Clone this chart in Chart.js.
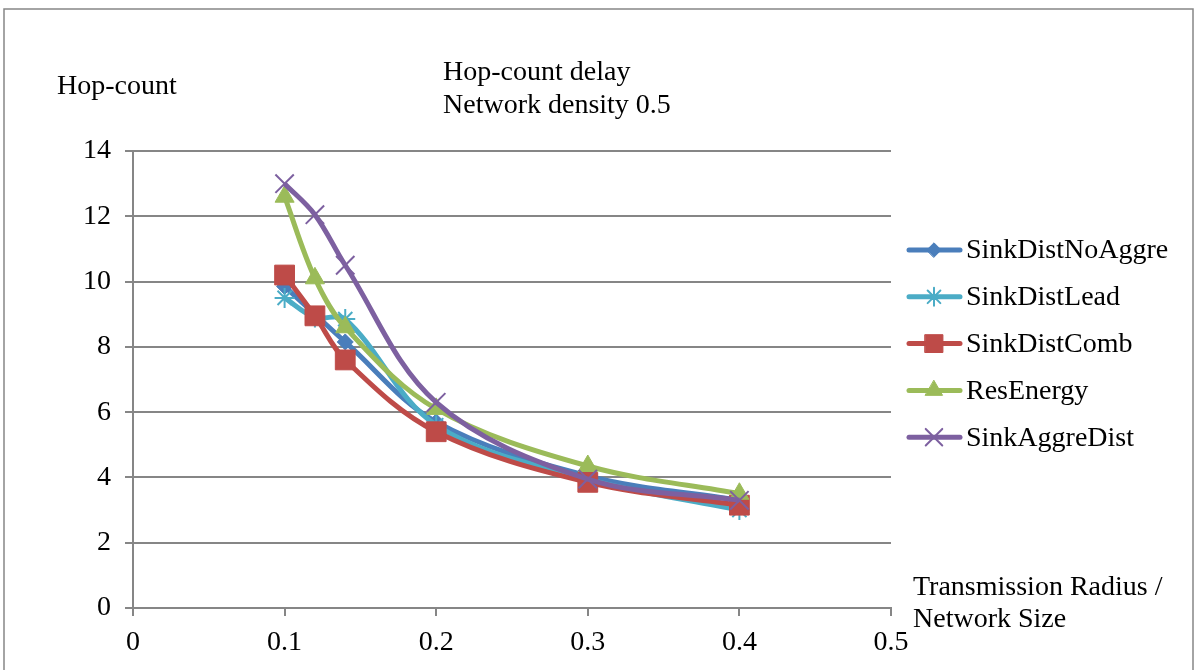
<!DOCTYPE html>
<html>
<head>
<meta charset="utf-8">
<script src="https://cdn.jsdelivr.net/npm/chart.js@4.4.1/dist/chart.umd.min.js"></script>
<style>
  html, body { margin: 0; background: #fff; }
  canvas { display: block; }
</style>
</head>
<body>
<canvas id="hops" width="1199" height="670"></canvas>
<script>
// transmission radius / network size
const radius = [0.1, 0.12, 0.14, 0.2, 0.3, 0.4];

// average hop count per scheme
const sinkDistNoAggre = [9.85, 9.0, 8.15, 5.7, 4.05, 3.3];
const sinkDistLead    = [9.5, 8.9, 8.85, 5.6, 3.95, 3.0];
const sinkDistComb    = [10.2, 8.95, 7.6, 5.4, 3.85, 3.15];
const resEnergy       = [12.6, 10.1, 8.6, 6.1, 4.35, 3.5];
const sinkAggreDist   = [13.0, 12.05, 10.5, 6.3, 3.95, 3.3];

const seriesNames = ["SinkDistNoAggre", "SinkDistLead", "SinkDistComb", "ResEnergy", "SinkAggreDist"];
const titleLines = ["Hop-count delay", "Network density 0.5"];
const xTitleLines = ["Transmission Radius /", "Network Size"];
const yTitle = "Hop-count";

const FONT = "'Liberation Serif', 'Times New Roman', serif";
const FONT_SIZE = 28;
const GRID = "#868686";

const styles = [
  { color: "#4A7EBB", point: "rectRot",  r: 8,  bw: 1 },
  { color: "#4BACC6", point: "star",     r: 10, bw: 2 },
  { color: "#BE4B48", point: "rect",     r: 14, bw: 1 },
  { color: "#9BBB59", point: "triangle", r: 11, bw: 1 },
  { color: "#7D60A0", point: "crossRot", r: 13, bw: 2 },
];

const values = [sinkDistNoAggre, sinkDistLead, sinkDistComb, resEnergy, sinkAggreDist];

const datasets = values.map((vals, i) => ({
  label: seriesNames[i],
  data: vals.map((v, j) => ({ x: radius[j], y: v })),
  borderColor: styles[i].color,
  backgroundColor: styles[i].color,
  borderWidth: 5,
  tension: 0.35,
  pointStyle: styles[i].point,
  pointRadius: styles[i].r,
  pointBorderWidth: styles[i].bw,
  pointBorderColor: styles[i].color,
  pointBackgroundColor: styles[i].color,
  order: values.length - i, // later series sit on top
}));

// fixed text, legend and frame
const decorations = {
  id: "decorations",
  afterDraw(chart) {
    const ctx = chart.ctx;
    ctx.save();
    // outer frame
    ctx.strokeStyle = GRID;
    ctx.lineWidth = 1.5;
    ctx.strokeRect(4, 9, 1189, 700);

    ctx.fillStyle = "#000";
    ctx.font = FONT_SIZE + "px " + FONT;
    ctx.textAlign = "left";
    ctx.textBaseline = "alphabetic";
    ctx.fillText(yTitle, 57, 94);
    titleLines.forEach((t, i) => ctx.fillText(t, 443, 80 + i * 33));
    xTitleLines.forEach((t, i) => ctx.fillText(t, 913, 595 + i * 32));

    // legend: line with marker, then name
    chart.data.datasets.forEach((ds, i) => {
      const y = 250 + i * 46.8;
      ctx.strokeStyle = ds.borderColor;
      ctx.fillStyle = ds.borderColor;
      ctx.lineWidth = 5;
      ctx.lineCap = "round";
      ctx.beginPath();
      ctx.moveTo(909, y);
      ctx.lineTo(960, y);
      ctx.stroke();
      ctx.lineWidth = ds.pointBorderWidth;
      Chart.helpers.drawPoint(ctx, {
        pointStyle: ds.pointStyle,
        radius: ds.pointRadius * 0.9,
        rotation: 0,
        borderWidth: ds.pointBorderWidth,
      }, 934, y);
      ctx.fillStyle = "#000";
      ctx.textBaseline = "middle";
      ctx.fillText(ds.label, 966, y + 1);
    });
    ctx.restore();
  },
};

new Chart(document.getElementById("hops"), {
  type: "line",
  data: { datasets },
  options: {
    responsive: false,
    animation: false,
    layout: { padding: { top: 151, right: 308, bottom: 0, left: 0 } },
    plugins: { legend: { display: false }, title: { display: false }, tooltip: { enabled: false } },
    scales: {
      x: {
        type: "linear",
        min: 0, max: 0.5,
        ticks: { stepSize: 0.1, color: "#000", font: { family: FONT, size: FONT_SIZE }, padding: 10 },
        grid: { drawOnChartArea: false, drawTicks: true, tickLength: 8, color: GRID, lineWidth: 2 },
        border: { color: GRID, width: 2 },
        afterFit(s) { s.height = 62; },
      },
      y: {
        min: 0, max: 14,
        ticks: { stepSize: 2, color: "#000", font: { family: FONT, size: FONT_SIZE }, padding: 14 },
        grid: { color: GRID, lineWidth: 2, tickLength: 8 },
        border: { color: GRID, width: 2 },
        afterFit(s) { s.width = 133; },
      },
    },
  },
  plugins: [decorations],
});
</script>
</body>
</html>
